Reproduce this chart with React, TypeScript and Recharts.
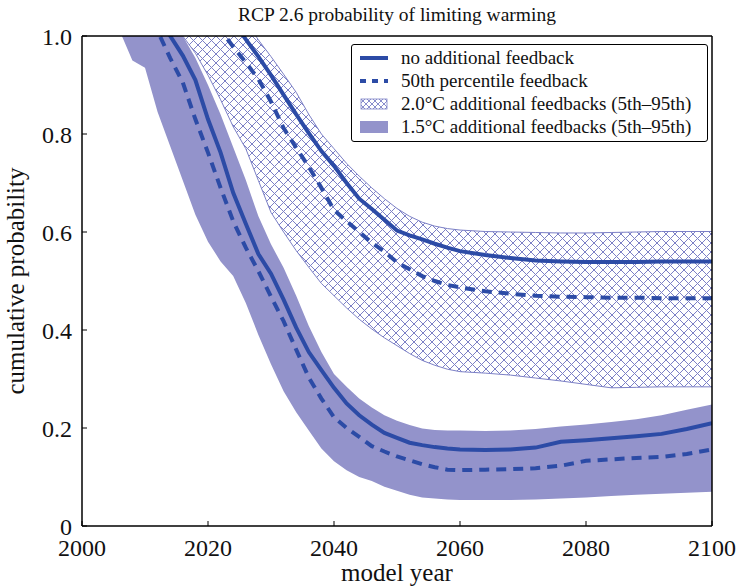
import { ComposedChart, Area, Line, XAxis, YAxis, Legend } from 'recharts';

// model years sampled along the curves
const years = [
  2004, 2006, 2008, 2010, 2012, 2014, 2016, 2018, 2020, 2022, 2024, 2026, 2028, 2030,
  2032, 2034, 2036, 2038, 2040, 2042, 2044, 2046, 2048, 2050, 2052, 2054, 2056, 2058,
  2060, 2064, 2068, 2072, 2076, 2080, 2084, 2088, 2092, 2096, 2100,
];

// 1.5°C: 5th-95th band and the two central lines
const lower15 = [
  1.08, 1.01, 0.95, 0.935, 0.845, 0.775, 0.705, 0.635, 0.58, 0.54, 0.51, 0.455, 0.39, 0.33,
  0.275, 0.232, 0.195, 0.158, 0.132, 0.114, 0.1, 0.092, 0.08, 0.072, 0.064, 0.058, 0.056, 0.054,
  0.053, 0.053, 0.053, 0.054, 0.056, 0.058, 0.061, 0.064, 0.066, 0.068, 0.07,
];
const upper15 = [
  1.3, 1.27, 1.22, 1.16, 1.1, 1.04, 1.0, 0.955, 0.9, 0.84, 0.773, 0.706, 0.632, 0.575,
  0.527, 0.47, 0.408, 0.355, 0.31, 0.284, 0.26, 0.242, 0.226, 0.215, 0.206, 0.199, 0.196, 0.195,
  0.195, 0.194, 0.195, 0.198, 0.203, 0.207, 0.212, 0.218, 0.226, 0.237, 0.248,
];
const noFeedback15 = [
  null, null, null, null, 1.04, 1.0, 0.96, 0.91, 0.83, 0.762, 0.68, 0.617, 0.555, 0.515,
  0.462, 0.405, 0.355, 0.318, 0.282, 0.25, 0.226, 0.207, 0.19, 0.18, 0.17, 0.165, 0.161, 0.158,
  0.156, 0.155, 0.156, 0.16, 0.172, 0.175, 0.179, 0.183, 0.188, 0.198, 0.21,
];
const median15 = [
  null, null, null, 1.06, 1.01, 0.955, 0.905, 0.83, 0.762, 0.69, 0.622, 0.568, 0.52, 0.468,
  0.418, 0.36, 0.303, 0.26, 0.222, 0.2, 0.182, 0.163, 0.152, 0.142, 0.134, 0.126, 0.12, 0.115,
  0.114, 0.115, 0.116, 0.118, 0.123, 0.133, 0.136, 0.139, 0.141, 0.147, 0.156,
];

// 2.0°C: 5th-95th band and the two central lines
const lower20 = [
  null, null, null, null, null, 1.05, 1.0, 0.965, 0.92, 0.87, 0.815, 0.77, 0.705, 0.64,
  0.6, 0.562, 0.528, 0.495, 0.47, 0.445, 0.422, 0.402, 0.384, 0.368, 0.352, 0.338, 0.328, 0.32,
  0.315, 0.312, 0.308, 0.302, 0.296, 0.289, 0.282, 0.283, 0.284, 0.284, 0.284,
];
const upper20 = [
  null, null, null, null, null, 1.3, 1.25, 1.2, 1.15, 1.1, 1.06, 1.03, 0.992, 0.958,
  0.922, 0.885, 0.84, 0.8, 0.77, 0.74, 0.714, 0.69, 0.668, 0.648, 0.632, 0.62, 0.612, 0.607,
  0.604, 0.601, 0.6, 0.599, 0.598, 0.598, 0.599, 0.6, 0.601, 0.601, 0.601,
];
const noFeedback20 = [
  null, null, null, null, null, null, null, null, null, null, 1.03, 0.993, 0.958, 0.92,
  0.88, 0.84, 0.802, 0.765, 0.735, 0.7, 0.668, 0.647, 0.625, 0.603, 0.593, 0.585, 0.576, 0.568,
  0.561, 0.553, 0.547, 0.542, 0.54, 0.539, 0.539, 0.539, 0.54, 0.54, 0.54,
];
const median20 = [
  null, null, null, null, null, null, null, null, 1.05, 1.012, 0.978, 0.946, 0.912, 0.866,
  0.812, 0.772, 0.733, 0.69, 0.645, 0.622, 0.6, 0.578, 0.56, 0.538, 0.524, 0.51, 0.5, 0.492,
  0.487, 0.479, 0.474, 0.47, 0.468, 0.467, 0.466, 0.466, 0.465, 0.465, 0.465,
];

const xTicks = [2000, 2020, 2040, 2060, 2080, 2100];
const yTicks = [0, 0.2, 0.4, 0.6, 0.8, 1.0];

const legendLabels = [
  'no additional feedback',
  '50th percentile feedback',
  '2.0°C additional feedbacks (5th–95th)',
  '1.5°C additional feedbacks (5th–95th)',
];

const data = years.map((year, i) => ({
  year,
  band15: [lower15[i], upper15[i]],
  band20: lower20[i] == null ? null : [lower20[i], upper20[i]],
  noFb15: noFeedback15[i],
  med15: median15[i],
  noFb20: noFeedback20[i],
  med20: median20[i],
}));

const FONT = '"Liberation Serif", "DejaVu Serif", serif';
const LINE = '#2c4ba6';
const FILL = '#9393cb';
const HATCH = '#7c80c6';

const tickStyle = { fontSize: 24, fill: '#111', fontFamily: FONT };

function LegendBox() {
  const samples = [
    <line x1={0} y1={6} x2={28} y2={6} stroke={LINE} strokeWidth={4} />,
    <line x1={0} y1={6} x2={28} y2={6} stroke={LINE} strokeWidth={4} strokeDasharray="6 6" />,
    <rect x={1} y={1} width={26} height={10} fill="url(#xhatchLegend)" stroke={HATCH} strokeWidth={0.8} />,
    <rect x={0} y={0} width={28} height={12} fill={FILL} />,
  ];
  return (
    <div
      style={{
        border: '1px solid #000',
        borderRadius: 3,
        background: '#fff',
        padding: '2px 0 3px 8px',
        fontFamily: FONT,
        fontSize: 19,
        color: '#111',
        boxSizing: 'border-box',
      }}
    >
      {legendLabels.map((label, i) => (
        <div key={label} style={{ display: 'flex', alignItems: 'center', height: 22.8 }}>
          <svg width={28} height={12} style={{ marginRight: 13, overflow: 'visible' }}>
            <defs>
              <pattern id="xhatchLegend" width="6" height="6" patternUnits="userSpaceOnUse">
                <path d="M0,0 L6,6 M6,0 L0,6" stroke={HATCH} strokeWidth={0.9} />
              </pattern>
            </defs>
            {samples[i]}
          </svg>
          <span style={{ whiteSpace: 'nowrap' }}>{label}</span>
        </div>
      ))}
    </div>
  );
}

export default function App() {
  return (
    <div style={{ position: 'absolute', left: 0, top: 0, background: '#fff' }}>
      <ComposedChart
        width={738}
        height={587}
        data={data}
        margin={{ top: 35, right: 25, bottom: 0, left: 0 }}
      >
        <defs>
          <pattern id="xhatch" width="9" height="9" patternUnits="userSpaceOnUse">
            <path d="M-1,-1 L10,10 M10,-1 L-1,10" stroke={HATCH} strokeWidth={1} />
          </pattern>
        </defs>
        <XAxis
          dataKey="year"
          type="number"
          domain={[2000, 2100]}
          ticks={xTicks}
          allowDataOverflow
          height={61}
          axisLine={{ stroke: '#000', strokeWidth: 1.5 }}
          tickLine={{ stroke: '#000', strokeWidth: 1 }}
          tickSize={-5}
          tickMargin={18}
          tick={tickStyle}
          label={({ viewBox }: any) => (
            <text
              x={viewBox.x + viewBox.width / 2}
              y={581}
              textAnchor="middle"
              fontFamily={FONT}
              fontSize={25}
              fill="#111"
            >
              model year
            </text>
          )}
        />
        <XAxis
          xAxisId="top"
          orientation="top"
          type="number"
          domain={[2000, 2100]}
          ticks={xTicks}
          allowDataOverflow
          height={1}
          axisLine={{ stroke: '#000', strokeWidth: 1.5 }}
          tickLine={{ stroke: '#000', strokeWidth: 1 }}
          tickSize={-5}
          tick={false}
          label={({ viewBox }: any) => (
            <text
              x={viewBox.x + viewBox.width / 2}
              y={21}
              textAnchor="middle"
              fontFamily={FONT}
              fontSize={19.5}
              fill="#111"
            >
              RCP 2.6 probability of limiting warming
            </text>
          )}
        />
        <YAxis
          type="number"
          domain={[0, 1]}
          ticks={yTicks}
          allowDataOverflow
          width={82}
          axisLine={{ stroke: '#000', strokeWidth: 1.5 }}
          tickLine={{ stroke: '#000', strokeWidth: 1 }}
          tickSize={-5}
          tickMargin={15}
          tick={tickStyle}
          tickFormatter={(v: number) => (v === 0 ? '0' : v.toFixed(1))}
          label={({ viewBox }: any) => {
            const cy = viewBox.y + viewBox.height / 2;
            return (
              <text
                x={24}
                y={cy}
                transform={`rotate(-90 24 ${cy})`}
                textAnchor="middle"
                fontFamily={FONT}
                fontSize={25}
                fill="#111"
              >
                cumulative probability
              </text>
            );
          }}
        />
        <YAxis
          yAxisId="right"
          orientation="right"
          type="number"
          domain={[0, 1]}
          ticks={yTicks}
          allowDataOverflow
          width={1}
          axisLine={{ stroke: '#000', strokeWidth: 1.5 }}
          tickLine={{ stroke: '#000', strokeWidth: 1 }}
          tickSize={-5}
          tick={false}
        />
        <Area
          dataKey="band20"
          type="linear"
          fill="url(#xhatch)"
          fillOpacity={1}
          stroke={HATCH}
          strokeWidth={1}
          dot={false}
          activeDot={false}
          isAnimationActive={false}
        />
        <Area
          dataKey="band15"
          type="linear"
          fill={FILL}
          fillOpacity={1}
          stroke="none"
          dot={false}
          activeDot={false}
          isAnimationActive={false}
        />
        <Line dataKey="noFb20" type="linear" stroke={LINE} strokeWidth={4} dot={false} activeDot={false} isAnimationActive={false} />
        <Line dataKey="med20" type="linear" stroke={LINE} strokeWidth={4} strokeDasharray="10 7" dot={false} activeDot={false} isAnimationActive={false} />
        <Line dataKey="noFb15" type="linear" stroke={LINE} strokeWidth={4} dot={false} activeDot={false} isAnimationActive={false} />
        <Line dataKey="med15" type="linear" stroke={LINE} strokeWidth={4} strokeDasharray="10 7" dot={false} activeDot={false} isAnimationActive={false} />
        <Legend
          layout="vertical"
          align="center"
          verticalAlign="middle"
          content={() => <LegendBox />}
          wrapperStyle={{ left: 351, top: 44, width: 357 }}
        />
      </ComposedChart>
    </div>
  );
}
